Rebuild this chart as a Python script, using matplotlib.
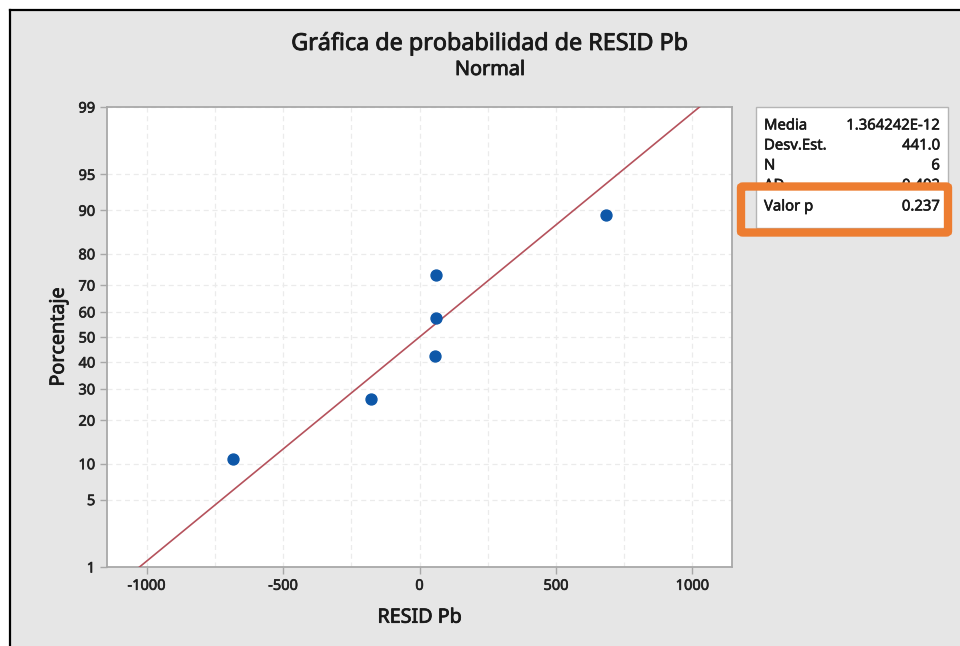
import math
import numpy as np
import matplotlib
matplotlib.use("Agg")
import matplotlib.pyplot as plt
import matplotlib.patheffects as pe
from matplotlib.patches import Rectangle, FancyBboxPatch

plt.rcParams['font.family'] = ['Noto Sans', 'DejaVu Sans']

# ---------------- data ----------------
resid = [-685, -176, 55, 59, 62, 685]
percent = [10.9, 26.6, 42.2, 57.8, 73.4, 89.1]
mean_val = 1.364242e-12
sd_val = 441.0
x_ticks = [-1000, -500, 0, 500, 1000]
y_ticks = [1, 5, 10, 20, 30, 40, 50, 60, 70, 80, 90, 95, 99]
stat_labels = ["Media", "Desv.Est.", "N", "AD", "Valor p"]
stat_values = ["1.364242E-12", "441.0", "6", "0.402", "0.237"]
title = "Gráfica de probabilidad de RESID Pb"
subtitle = "Normal"
xlabel = "RESID Pb"
ylabel = "Porcentaje"


def norm_ppf(p):
    p = np.clip(np.asarray(p, dtype=float), 1e-12, 1 - 1e-12)
    a = [-3.969683028665376e+01, 2.209460984245205e+02, -2.759285104469687e+02,
         1.383577518672690e+02, -3.066479806614716e+01, 2.506628277459239e+00]
    b = [-5.447609879822406e+01, 1.615858368580409e+02, -1.556989798598866e+02,
         6.680131188771972e+01, -1.328068155288572e+01]
    c = [-7.784894002430293e-03, -3.223964580411365e-01, -2.400758277161838e+00,
         -2.549671010229583e+00, 4.374664141464968e+00, 2.938163982698783e+00]
    d = [7.784695709041462e-03, 3.224671290700398e-01, 2.445134137142996e+00,
         3.754408661907416e+00]
    plow = 0.02425
    phigh = 1 - plow
    out = np.empty_like(p)
    lo = p < plow
    hi = p > phigh
    mid = ~(lo | hi)
    q = np.sqrt(-2 * np.log(p[lo]))
    out[lo] = (((((c[0]*q+c[1])*q+c[2])*q+c[3])*q+c[4])*q+c[5]) / \
              ((((d[0]*q+d[1])*q+d[2])*q+d[3])*q+1)
    q = np.sqrt(-2 * np.log(1 - p[hi]))
    out[hi] = -(((((c[0]*q+c[1])*q+c[2])*q+c[3])*q+c[4])*q+c[5]) / \
               ((((d[0]*q+d[1])*q+d[2])*q+d[3])*q+1)
    q = p[mid] - 0.5
    r = q * q
    out[mid] = (((((a[0]*r+a[1])*r+a[2])*r+a[3])*r+a[4])*r+a[5])*q / \
               (((((b[0]*r+b[1])*r+b[2])*r+b[3])*r+b[4])*r+1)
    return out


_erf = np.vectorize(math.erf)


def fwd(y):
    return norm_ppf(np.asarray(y, dtype=float) / 100.0)


def inv(z):
    return 50.0 * (1 + _erf(np.asarray(z, dtype=float) / math.sqrt(2)))


def thick(color='#1a1a1a', w=0.55):
    return [pe.withStroke(linewidth=w, foreground=color)]


W, H = 960, 646
fig = plt.figure(figsize=(W / 100, H / 100), dpi=100)
fig.patch.set_facecolor('white')

# grey panel with black top/left border
bg = Rectangle((10 / W, 0), 1 - 10 / W, 1 - 10 / H, transform=fig.transFigure,
               facecolor='#e6e6e6', edgecolor='none', zorder=0)
fig.add_artist(bg)
fig.add_artist(plt.Line2D([10 / W, 1], [1 - 10 / H, 1 - 10 / H], transform=fig.transFigure,
                          color='black', lw=1.6))
fig.add_artist(plt.Line2D([10 / W, 10 / W], [0, 1 - 10 / H], transform=fig.transFigure,
                          color='black', lw=1.6))

ax = fig.add_axes([107 / W, 1 - 567 / H, (732 - 107) / W, (567 - 107) / H])
ax.set_facecolor('white')
ax.set_yscale('function', functions=(fwd, inv))
ax.set_xlim(-1145, 1145)
ax.set_ylim(1, 99)
ax.set_yticks(y_ticks)
ax.set_yticklabels([str(v) for v in y_ticks])
ax.set_xticks(x_ticks)
ax.set_xticklabels([str(v) for v in x_ticks])
ax.minorticks_off()

# grid
for gx in np.arange(-1000, 1001, 250):
    ax.axvline(gx, color='#ebebeb', lw=0.9, ls=(0, (4, 3)), zorder=1)
for gy in y_ticks:
    ax.axhline(gy, color='#ebebeb', lw=0.9, ls=(0, (4, 3)), zorder=1)

# fitted line
line_p = [1, 99]
line_x = mean_val + sd_val * norm_ppf(np.array(line_p) / 100.0)
ax.plot(line_x, line_p, color='#b5525c', lw=1.2, zorder=3)

# points
ax.scatter(resid, percent, s=62, color='#0d57a8', edgecolors='#0d57a8', zorder=4)

for s in ax.spines.values():
    s.set_color('#a8a8a8')
    s.set_linewidth(1.3)
ax.tick_params(axis='both', colors='#a8a8a8', labelcolor='#222222', labelsize=10.5,
               length=5, width=1)
for lbl in ax.get_xticklabels() + ax.get_yticklabels():
    lbl.set_path_effects(thick('#222222', 0.45))

ax.set_xlabel(xlabel, fontsize=14.2, color='#1a1a1a', labelpad=10,
              path_effects=thick())
ax.set_ylabel(ylabel, fontsize=14.2, color='#1a1a1a', labelpad=7,
              path_effects=thick())

fig.text(490 / W, 1 - 44 / H, title, ha='center', va='center', fontsize=16.8,
         color='#1a1a1a', path_effects=thick(w=0.6))
fig.text(490 / W, 1 - 70 / H, subtitle, ha='center', va='center', fontsize=14.3,
         color='#1a1a1a', path_effects=thick(w=0.6))

# stats box
box = Rectangle((756 / W, 1 - 228 / H), (948 - 756) / W, (228 - 107) / H,
                transform=fig.transFigure, facecolor='white', edgecolor='#b5b5b5', lw=1.0, zorder=2)
fig.add_artist(box)
row_y = [126, 146, 166, 186, 207]
for lab, val, yy in zip(stat_labels, stat_values, row_y):
    fig.text(764 / W, 1 - yy / H, lab, ha='left', va='center', fontsize=10.7,
             color='#1a1a1a', zorder=3, path_effects=thick(w=0.4))
    fig.text(940 / W, 1 - yy / H, val, ha='right', va='center', fontsize=10.7,
             color='#1a1a1a', zorder=3, path_effects=thick(w=0.4))

# orange highlight
hl = FancyBboxPatch((741 / W, 1 - 232.5 / H), (948 - 741) / W, (232.5 - 186.5) / H,
                    boxstyle='round,pad=0,rounding_size=0.002', transform=fig.transFigure,
                    facecolor='none', edgecolor='#ed7d31', lw=6, zorder=5)
fig.add_artist(hl)

fig.savefig('out.png', dpi=100, facecolor=fig.get_facecolor())
